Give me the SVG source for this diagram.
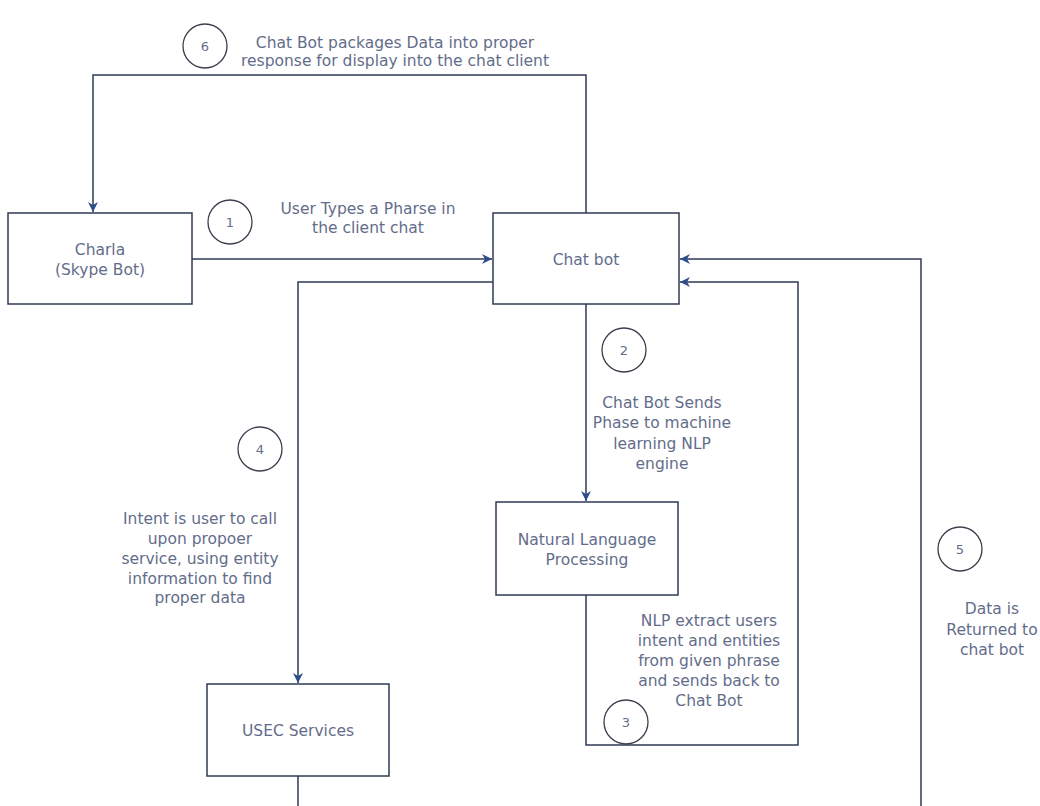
<svg xmlns="http://www.w3.org/2000/svg" width="1040" height="806" viewBox="0 0 1040 806">
<style>
.box{fill:#ffffff;stroke:#2e3a55;stroke-width:1.5}
.edge{fill:none;stroke:#2e3a55;stroke-width:1.5}
.num{fill:#ffffff;stroke:#3a3f4d;stroke-width:1.3}
text{font-family:"DejaVu Sans","Liberation Sans",Arial,sans-serif;font-size:15.5px;fill:#636d8a;text-anchor:middle}
.ntext{font-size:13px}
</style>
<defs>
<marker id="arr" markerWidth="12" markerHeight="10" refX="10" refY="5" orient="auto" markerUnits="userSpaceOnUse">
<path d="M0,0 L10,5 L0,10 L3,5 Z" fill="#2d4c8c"/>
</marker>
</defs>
<rect width="1040" height="806" fill="#ffffff"/>
<g id="connectors">
<path class="edge" d="M586,213 V75 H93 V212" marker-end="url(#arr)"/>
<path class="edge" d="M192,259 H492" marker-end="url(#arr)"/>
<path class="edge" d="M493,282 H298 V683" marker-end="url(#arr)"/>
<path class="edge" d="M298,776 V806"/>
<path class="edge" d="M586,304 V501" marker-end="url(#arr)"/>
<path class="edge" d="M586,595 V745 H798 V282 H680" marker-end="url(#arr)"/>
<path class="edge" d="M921,806 V259 H680" marker-end="url(#arr)"/>
</g>
<g id="charla">
<rect class="box" x="8" y="213" width="184" height="91"/>
<text x="100" y="255">Charla</text>
<text x="100" y="275">(Skype Bot)</text>
</g>
<g id="chatbot">
<rect class="box" x="493" y="213" width="186" height="91"/>
<text x="586" y="265">Chat bot</text>
</g>
<g id="nlp">
<rect class="box" x="496" y="502" width="182" height="93"/>
<text x="587" y="545">Natural Language</text>
<text x="587" y="565">Processing</text>
</g>
<g id="usec">
<rect class="box" x="207" y="684" width="182" height="92"/>
<text x="298" y="736">USEC Services</text>
</g>
<g id="step1">
<circle class="num" cx="230" cy="222" r="22"/>
<text class="ntext" x="230" y="227">1</text>
<text x="368" y="214">User Types a Pharse in</text>
<text x="368" y="233">the client chat</text>
</g>
<g id="step2">
<circle class="num" cx="624" cy="350" r="22"/>
<text class="ntext" x="624" y="355">2</text>
<text x="662" y="408">Chat Bot Sends</text>
<text x="662" y="428">Phase to machine</text>
<text x="662" y="449">learning NLP</text>
<text x="662" y="469">engine</text>
</g>
<g id="step3">
<circle class="num" cx="626" cy="722" r="22"/>
<text class="ntext" x="626" y="727">3</text>
<text x="709" y="626">NLP extract users</text>
<text x="709" y="646">intent and entities</text>
<text x="709" y="666">from given phrase</text>
<text x="709" y="686">and sends back to</text>
<text x="709" y="706">Chat Bot</text>
</g>
<g id="step4">
<circle class="num" cx="260" cy="449" r="22"/>
<text class="ntext" x="260" y="454">4</text>
<text x="200" y="524">Intent is user to call</text>
<text x="200" y="544">upon propoer</text>
<text x="200" y="564">service, using entity</text>
<text x="200" y="584">information to find</text>
<text x="200" y="603">proper data</text>
</g>
<g id="step5">
<circle class="num" cx="960" cy="549" r="22"/>
<text class="ntext" x="960" y="554">5</text>
<text x="992" y="614">Data is</text>
<text x="992" y="635">Returned to</text>
<text x="992" y="655">chat bot</text>
</g>
<g id="step6">
<circle class="num" cx="205" cy="46" r="22"/>
<text class="ntext" x="205" y="51">6</text>
<text x="395" y="48">Chat Bot packages Data into proper</text>
<text x="395" y="66">response for display into the chat client</text>
</g>
</svg>
